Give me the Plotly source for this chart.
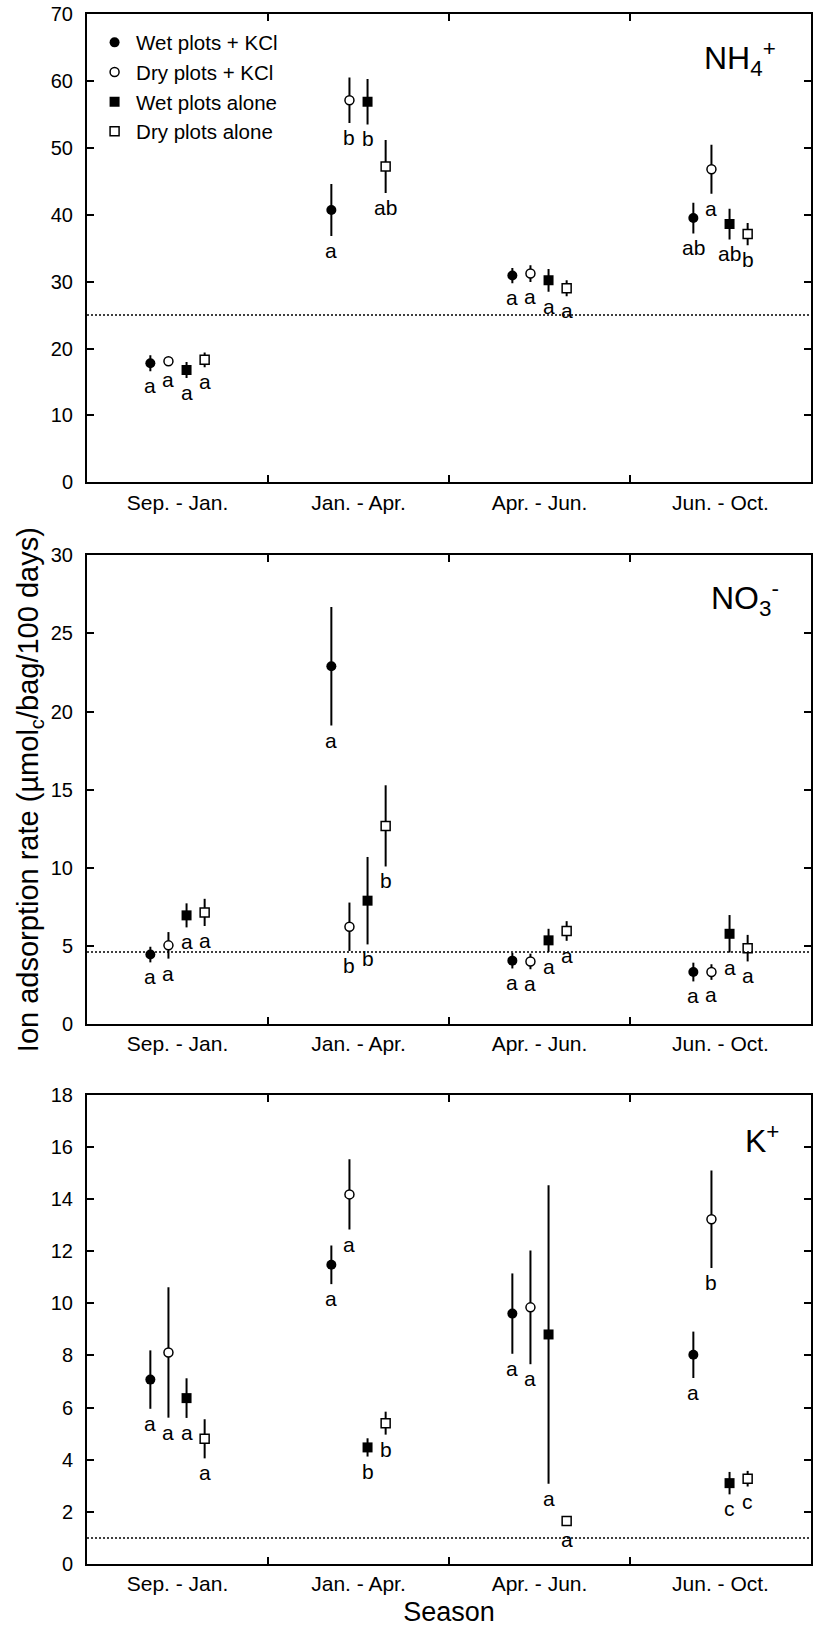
import plotly.graph_objects as go

# ---------------- data ----------------
seasons = ["Sep. - Jan.", "Jan. - Apr.", "Apr. - Jun.", "Jun. - Oct."]
series_names = ["Wet plots + KCl", "Dry plots + KCl", "Wet plots alone", "Dry plots alone"]

# NH4+
nh4_wet_kcl = [17.8, 40.7, 30.9, 39.5]
nh4_wet_kcl_se = [1.2, 3.9, 1.15, 2.3]
nh4_dry_kcl = [18.1, 57.1, 31.2, 46.8]
nh4_dry_kcl_se = [0.6, 3.4, 1.25, 3.65]
nh4_wet_alone = [16.8, 56.9, 30.2, 38.6]
nh4_wet_alone_se = [1.2, 3.4, 1.7, 2.3]
nh4_dry_alone = [18.3, 47.2, 29.0, 37.1]
nh4_dry_alone_se = [1.1, 3.95, 1.2, 1.65]
nh4_letters_wet_kcl = ["a", "a", "a", "ab"]
nh4_letters_dry_kcl = ["a", "b", "a", "a"]
nh4_letters_wet_alone = ["a", "b", "a", "ab"]
nh4_letters_dry_alone = ["a", "ab", "a", "b"]

# NO3-
no3_wet_kcl = [4.44, 22.9, 4.05, 3.32]
no3_wet_kcl_se = [0.5, 3.8, 0.5, 0.6]
no3_dry_kcl = [5.03, 6.22, 4.0, 3.32]
no3_dry_kcl_se = [0.85, 1.55, 0.5, 0.5]
no3_wet_alone = [6.95, 7.89, 5.35, 5.77]
no3_wet_alone_se = [0.77, 2.8, 0.74, 1.2]
no3_dry_alone = [7.14, 12.68, 5.95, 4.85]
no3_dry_alone_se = [0.87, 2.6, 0.63, 0.85]
no3_letters_wet_kcl = ["a", "a", "a", "a"]
no3_letters_dry_kcl = ["a", "b", "a", "a"]
no3_letters_wet_alone = ["a", "b", "a", "a"]
no3_letters_dry_alone = ["a", "b", "a", "a"]

# K+
k_wet_kcl = [7.07, 11.47, 9.6, 8.02]
k_wet_kcl_se = [1.12, 0.74, 1.54, 0.89]
k_dry_kcl = [8.11, 14.17, 9.84, 13.22]
k_dry_kcl_se = [2.5, 1.35, 2.18, 1.87]
k_wet_alone = [6.36, 4.47, 8.8, 3.1]
k_wet_alone_se = [0.76, 0.35, 5.72, 0.43]
k_dry_alone = [4.8, 5.4, 1.65, 3.27]
k_dry_alone_se = [0.75, 0.44, 0.15, 0.3]
k_letters_wet_kcl = ["a", "a", "a", "a"]
k_letters_dry_kcl = ["a", "a", "a", "b"]
k_letters_wet_alone = ["a", "b", "a", "c"]
k_letters_dry_alone = ["a", "b", "a", "c"]

ion_labels = ["NH<sub>4</sub><sup>+</sup>", "NO<sub>3</sub><sup>-</sup>", "K<sup>+</sup>"]
y_ranges = [[0, 70], [0, 30], [0, 18]]
y_dticks = [10, 5, 2]
detection_limits = [25, 4.6, 1.0]

panels = [
    [(nh4_wet_kcl, nh4_wet_kcl_se, nh4_letters_wet_kcl),
     (nh4_dry_kcl, nh4_dry_kcl_se, nh4_letters_dry_kcl),
     (nh4_wet_alone, nh4_wet_alone_se, nh4_letters_wet_alone),
     (nh4_dry_alone, nh4_dry_alone_se, nh4_letters_dry_alone)],
    [(no3_wet_kcl, no3_wet_kcl_se, no3_letters_wet_kcl),
     (no3_dry_kcl, no3_dry_kcl_se, no3_letters_dry_kcl),
     (no3_wet_alone, no3_wet_alone_se, no3_letters_wet_alone),
     (no3_dry_alone, no3_dry_alone_se, no3_letters_dry_alone)],
    [(k_wet_kcl, k_wet_kcl_se, k_letters_wet_kcl),
     (k_dry_kcl, k_dry_kcl_se, k_letters_dry_kcl),
     (k_wet_alone, k_wet_alone_se, k_letters_wet_alone),
     (k_dry_alone, k_dry_alone_se, k_letters_dry_alone)],
]

# ---------------- style / layout ----------------
FONT = "Liberation Sans, Arial, Helvetica, sans-serif"
W, H = 815, 1631
series_offsets = [-0.15, -0.05, 0.05, 0.15]
marker_styles = [
    dict(symbol="circle", color="black", size=10, line=dict(color="black", width=0)),
    dict(symbol="circle", color="white", size=9, line=dict(color="black", width=1.5)),
    dict(symbol="square", color="black", size=10, line=dict(color="black", width=0)),
    dict(symbol="square", color="white", size=9, line=dict(color="black", width=1.5)),
]

panel_px = [(14, 482.3), (555.4, 1023.9), (1094.5, 1564)]  # top, bottom in pixels
ion_label_x = [0.955, 0.958, 0.958]
ion_label_y = [0.905, 0.907, 0.905]
m_top, m_bot = 14, H - 1564
plot_h = H - m_top - m_bot


def dom(t, b):
    return [(H - m_bot - b) / plot_h, (H - m_bot - t) / plot_h]


fig = go.Figure()
annotations = []
shapes = []

for p, series in enumerate(panels):
    xa = "x" if p == 0 else f"x{p + 1}"
    ya = "y" if p == 0 else f"y{p + 1}"
    for s, (vals, se, letters) in enumerate(series):
        xs = [i + 0.5 + series_offsets[s] for i in range(len(seasons))]
        fig.add_trace(go.Scatter(
            x=xs, y=vals, mode="markers", name=series_names[s],
            legendgroup=series_names[s], showlegend=(p == 0),
            marker=marker_styles[s],
            error_y=dict(type="data", array=se, thickness=2, width=0, color="black"),
            xaxis=xa, yaxis=ya,
        ))
        for i, lt in enumerate(letters):
            annotations.append(dict(
                x=xs[i], y=vals[i] - se[i], xref=xa, yref=ya, text=lt,
                showarrow=False, yanchor="top", xanchor="center", yshift=-1,
                font=dict(family=FONT, size=21, color="black"),
            ))
    annotations.append(dict(
        x=ion_label_x[p], y=ion_label_y[p], xref=f"{xa} domain", yref=f"{ya} domain",
        text=ion_labels[p], showarrow=False, xanchor="right", yanchor="middle",
        font=dict(family=FONT, size=32, color="black"),
    ))
    shapes.append(dict(
        type="line", xref=f"{xa} domain", yref=ya, x0=0, x1=1,
        y0=detection_limits[p], y1=detection_limits[p],
        line=dict(color="black", width=1.5, dash="2px,2px"),
    ))

layout = dict(
    width=W, height=H,
    margin=dict(l=87, r=2, t=m_top, b=m_bot),
    paper_bgcolor="white", plot_bgcolor="white",
    font=dict(family=FONT, color="black", size=20),
    annotations=annotations, shapes=shapes,
    legend=dict(x=0.0084, y=0.9945, xanchor="left", yanchor="top",
                bgcolor="rgba(0,0,0,0)", borderwidth=0, itemwidth=33,
                font=dict(family=FONT, size=20.5, color="black"),
                tracegroupgap=0),
)

for p in range(3):
    suffix = "" if p == 0 else str(p + 1)
    t, b = panel_px[p]
    layout["xaxis" + suffix] = dict(
        domain=[0, 1], anchor="y" + suffix, range=[0, 4],
        tickmode="array", tickvals=[i + 0.5 for i in range(len(seasons))],
        ticktext=seasons, ticks="", showgrid=False, zeroline=False,
        showline=True, linecolor="black", linewidth=2, mirror="ticks",
        tickfont=dict(family=FONT, size=21, color="black"),
        minor=dict(tickmode="array", tickvals=[1, 2, 3], ticks="inside",
                   ticklen=7, tickwidth=2, tickcolor="black", showgrid=False),
    )
    layout["yaxis" + suffix] = dict(
        domain=dom(t, b), anchor="x" + suffix, range=y_ranges[p],
        dtick=y_dticks[p], tick0=0, ticks="inside", ticklen=7, tickwidth=2,
        tickcolor="black", showgrid=False, zeroline=False,
        showline=True, linecolor="black", linewidth=2, mirror="ticks",
        tickfont=dict(family=FONT, size=20, color="black"),
        ticklabelstandoff=8,
    )

layout["yaxis2"]["title"] = dict(
    text="Ion adsorption rate (µmol<sub>c</sub>/bag/100 days)",
    font=dict(family=FONT, size=29, color="black"), standoff=4,
)
layout["xaxis3"]["title"] = dict(
    text="Season", font=dict(family=FONT, size=27, color="black"), standoff=8,
)

fig.update_layout(**layout)
fig.write_html(
    "out.html",
    config={"displayModeBar": False},
    post_script="document.body.style.margin='0px';document.body.style.overflow='hidden';",
)
